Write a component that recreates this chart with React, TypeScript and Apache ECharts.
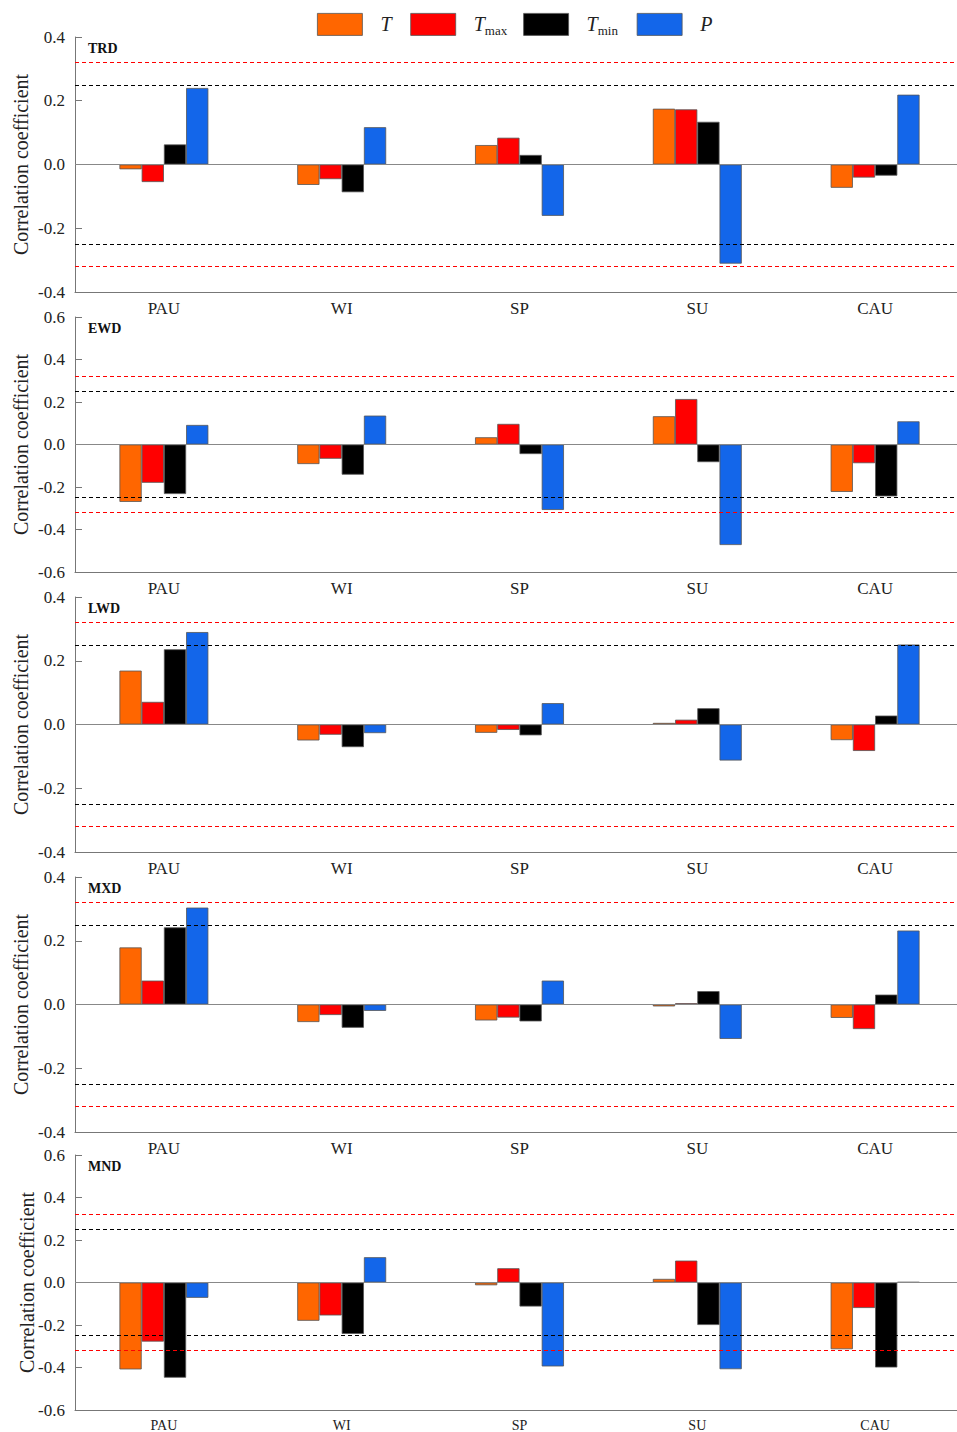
import React, { useEffect, useRef } from "react";
import * as echarts from "echarts";

const categories = ["PAU", "WI", "SP", "SU", "CAU"];
const panelNames = ["TRD", "EWD", "LWD", "MXD", "MND"];
const seriesNames = ["T", "Tmax", "Tmin", "P"];
const seriesColors = ["#FF6600", "#FF0000", "#000000", "#1366EA"];
const yMins = [-0.4, -0.6, -0.4, -0.4, -0.6];
const yMaxs = [0.4, 0.6, 0.4, 0.4, 0.6];
const critical95 = 0.246;
const critical99 = 0.32;

// rows: TRD, EWD, LWD, MXD, MND ; columns: PAU, WI, SP, SU, CAU
const tValues = [
  [-0.015, -0.064, 0.061, 0.175, -0.073],
  [-0.27, -0.092, 0.034, 0.133, -0.223],
  [0.169, -0.05, -0.026, 0.005, -0.049],
  [0.179, -0.055, -0.05, -0.006, -0.042],
  [-0.409, -0.18, -0.013, 0.017, -0.314],
];
const tmaxValues = [
  [-0.055, -0.046, 0.084, 0.173, -0.041],
  [-0.18, -0.067, 0.097, 0.214, -0.088],
  [0.071, -0.032, -0.017, 0.015, -0.083],
  [0.075, -0.033, -0.041, 0.004, -0.077],
  [-0.278, -0.155, 0.067, 0.103, -0.12],
];
const tminValues = [
  [0.063, -0.087, 0.03, 0.134, -0.035],
  [-0.233, -0.142, -0.045, -0.083, -0.244],
  [0.236, -0.071, -0.034, 0.051, 0.028],
  [0.242, -0.073, -0.053, 0.042, 0.031],
  [-0.448, -0.242, -0.113, -0.2, -0.4],
];
const pValues = [
  [0.24, 0.117, -0.161, -0.311, 0.219],
  [0.092, 0.136, -0.308, -0.473, 0.109],
  [0.29, -0.027, 0.067, -0.113, 0.251],
  [0.304, -0.02, 0.075, -0.108, 0.232],
  [-0.072, 0.119, -0.395, -0.408, 0.002],
];
const allValues = [tValues, tmaxValues, tminValues, pValues];

const FONT = "Liberation Serif";
const gridTops = [37, 317, 597, 877, 1155];
const gridHeight = 255;

export default function App() {
  const ref = useRef<HTMLDivElement>(null);
  useEffect(() => {
    if (!ref.current) return;
    const chart = echarts.init(ref.current, null, { renderer: "svg" });
    const grids: any[] = [];
    const xAxes: any[] = [];
    const yAxes: any[] = [];
    const series: any[] = [];
    const graphics: any[] = [];
    const mk = (lines: any[], color: string, type: any) => ({
      silent: true,
      symbol: ["none", "none"],
      label: { show: false },
      lineStyle: { color, type, width: 1, opacity: 1 },
      emphasis: { disabled: true },
      data: lines,
    });
    panelNames.forEach((pn, i) => {
      const last = i === panelNames.length - 1;
      grids.push({
        left: 75,
        width: 889,
        top: gridTops[i],
        height: gridHeight,
        outerBoundsMode: "none",
        containLabel: false,
      });
      xAxes.push({
        type: "category",
        gridIndex: i,
        data: categories,
        boundaryGap: true,
        axisLine: { onZero: false, lineStyle: { color: "#777", width: 1 } },
        axisTick: { inside: true, alignWithLabel: true, length: 8, lineStyle: { color: "#777" } },
        axisLabel: { fontFamily: FONT, fontSize: last ? 14 : 17, color: "#222", margin: 8 },
        splitLine: { show: false },
      });
      yAxes.push({
        type: "value",
        gridIndex: i,
        min: yMins[i],
        max: yMaxs[i],
        interval: 0.2,
        name: "Correlation coefficient",
        nameLocation: "middle",
        nameMoveOverlap: false,
        nameGap: last ? 38 : 44,
        nameTextStyle: { fontFamily: FONT, fontSize: 20, color: "#222" },
        axisLine: { show: true, lineStyle: { color: "#777", width: 1 } },
        axisTick: { show: true, inside: true, length: 7, lineStyle: { color: "#777" } },
        axisLabel: {
          fontFamily: FONT,
          fontSize: 17,
          color: "#222",
          margin: 10,
          formatter: (v: number) => (Math.abs(v) < 1e-9 ? "0.0" : v.toFixed(1)),
        },
        splitLine: { show: false },
      });
      seriesNames.forEach((sn, k) => {
        const s: any = {
          type: "bar",
          name: sn,
          xAxisIndex: i,
          yAxisIndex: i,
          data: allValues[k][i],
          barCategoryGap: "50%",
          barGap: "0%",
          itemStyle: { color: seriesColors[k], borderColor: "#555", borderWidth: 0.8 },
        };
        if (k === 3) s.markLine = mk([{ yAxis: 0 }], "#888888", "solid");
        if (k === 2) s.markLine = mk([{ yAxis: critical95 }, { yAxis: -critical95 }], "#000000", [4, 3]);
        if (k === 1) s.markLine = mk([{ yAxis: critical99 }, { yAxis: -critical99 }], "#FF0000", [4, 3]);
        series.push(s);
      });
      graphics.push({
        type: "text",
        left: 88,
        top: gridTops[i] + 4,
        style: { text: pn, fontFamily: FONT, fontWeight: "bold", fontSize: 14, fill: "#111" },
      });
    });

    const legendLabel = (name: string) => {
      if (name === "Tmax") return "{i|T}{s|max}";
      if (name === "Tmin") return "{i|T}{s|min}{g| }";
      if (name === "T") return "{i|T}{g| }";
      return "{i|" + name + "}";
    };

    chart.setOption({
      animation: false,
      backgroundColor: "#fff",
      legend: {
        data: seriesNames,
        left: 317,
        top: 13,
        padding: 0,
        itemWidth: 45,
        itemHeight: 22,
        itemGap: 16,
        icon: "rect",
        itemStyle: { borderColor: "#555", borderWidth: 0.8 },
        formatter: legendLabel,
        textStyle: {
          padding: [0, 0, 0, 13],
          rich: {
            i: { fontFamily: FONT, fontStyle: "italic", fontSize: 20, color: "#222" },
            s: { fontFamily: FONT, fontSize: 13, color: "#222", padding: [12, 0, 0, 0] },
            g: { fontSize: 10, width: 6 },
          },
        },
      },
      grid: grids,
      xAxis: xAxes,
      yAxis: yAxes,
      series,
      graphic: graphics,
    });
    return () => chart.dispose();
  }, []);
  return (
    <div
      ref={ref}
      style={{ position: "absolute", left: 0, top: 0, width: 957, height: 1432, overflow: "hidden" }}
    />
  );
}
